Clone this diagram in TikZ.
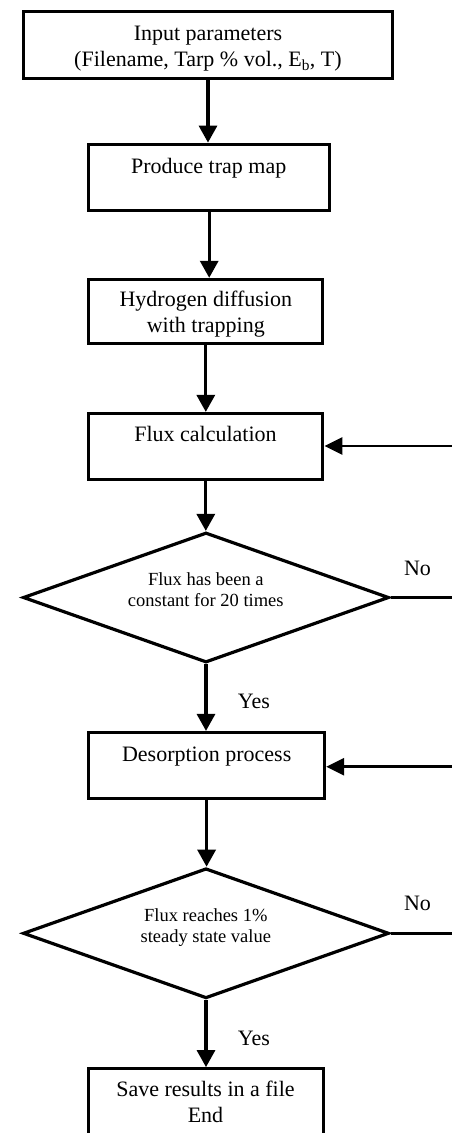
\documentclass[tikz,border=0pt]{standalone}
\usepackage{fontspec}
\setmainfont{Liberation Serif}
\usetikzlibrary{shapes.geometric,arrows.meta}
\begin{document}
\begin{tikzpicture}[x=1pt,y=-1pt,
  lw/.style={line width=3.2pt},
  procbox/.style={draw,lw,rectangle,inner sep=0pt},
  decbox/.style={draw,lw,diamond,inner sep=0pt,minimum width=366pt,minimum height=130pt},
  txt/.style={anchor=base,inner sep=0pt,font=\fontsize{22}{26}\selectfont},
  dtxt/.style={anchor=base,inner sep=0pt,font=\fontsize{18.5}{22}\selectfont},
  arr/.style={lw,-{Triangle[length=17pt,width=18pt]}},
  sidearr/.style={line width=2.8pt,-{Triangle[length=18pt,width=17pt]}},
  sideline/.style={line width=2.8pt}]
\useasboundingbox (0,0) rectangle (452,1133);
\clip (0,0) rectangle (452,1133);
% boxes
\node[procbox,minimum width=369pt,minimum height=67pt] (b1) at (208,45) {};
\node[procbox,minimum width=241pt,minimum height=66pt] (b2) at (209.2,177.2) {};
\node[procbox,minimum width=234pt,minimum height=64pt] (b3) at (205.8,311.4) {};
\node[procbox,minimum width=234pt,minimum height=66pt] (b4) at (205.8,446.5) {};
\node[decbox] (d1) at (206,597.5) {};
\node[procbox,minimum width=236pt,minimum height=66pt] (b5) at (206.6,765.5) {};
\node[decbox] (d2) at (206,933.3) {};
\node[procbox,minimum width=234.7pt,minimum height=80pt] (b6) at (206.2,1108.7) {};
% texts
\node[txt] (t1a) at (208,40.7) {Input parameters};
\node[txt] (t1b) at (208,66.7) {(Filename, Tarp \% vol., E\textsubscript{b}, T)};
\node[txt] (t2) at (208.7,173.3) {Produce trap map};
\node[txt] (t3a) at (205.8,306.7) {Hydrogen diffusion};
\node[txt] (t3b) at (205.8,332.3) {with trapping};
\node[txt] (t4) at (205.5,441.7) {Flux calculation};
\node[dtxt] (t5a) at (205.8,585) {Flux has been a};
\node[dtxt] (t5b) at (205.8,606.7) {constant for 20 times};
\node[txt] (t6) at (206.7,761) {Desorption process};
\node[dtxt] (t7a) at (205.8,921) {Flux reaches 1\%};
\node[dtxt] (t7b) at (205.8,942.5) {steady state value};
\node[txt] (t8a) at (205.5,1096.7) {Save results in a file};
\node[txt] (t8b) at (205.5,1122.7) {End};
% labels
\node[txt] (no1) at (417.5,575) {No};
\node[txt] (yes1) at (254,708) {Yes};
\node[txt] (no2) at (417.5,910) {No};
\node[txt] (yes2) at (254,1045) {Yes};
% main flow
\draw[arr] (b1.south) -- (b1.south |- b2.north);
\draw[arr] (b2.south) -- (b2.south |- b3.north);
\draw[arr] (b3.south) -- (b3.south |- b4.north);
\draw[arr] (b4.south) -- (b4.south |- d1.north);
\draw[arr] (d1.south) -- (d1.south |- b5.north);
\draw[arr] (b5.south) -- (b5.south |- d2.north);
\draw[arr] (d2.south) -- (d2.south |- b6.north);
% loops (right side)
\coordinate (e1) at (456,597.5);
\coordinate (r4) at (456,446);
\coordinate (e2) at (456,933.3);
\coordinate (r5) at (456,766.7);
\draw[sideline] (d1.east) -- (e1);
\draw[sidearr] (r4) -- (r4 -| b4.east);
\draw[sideline] (d2.east) -- (e2);
\draw[sidearr] (r5) -- (r5 -| b5.east);
\end{tikzpicture}
\end{document}
